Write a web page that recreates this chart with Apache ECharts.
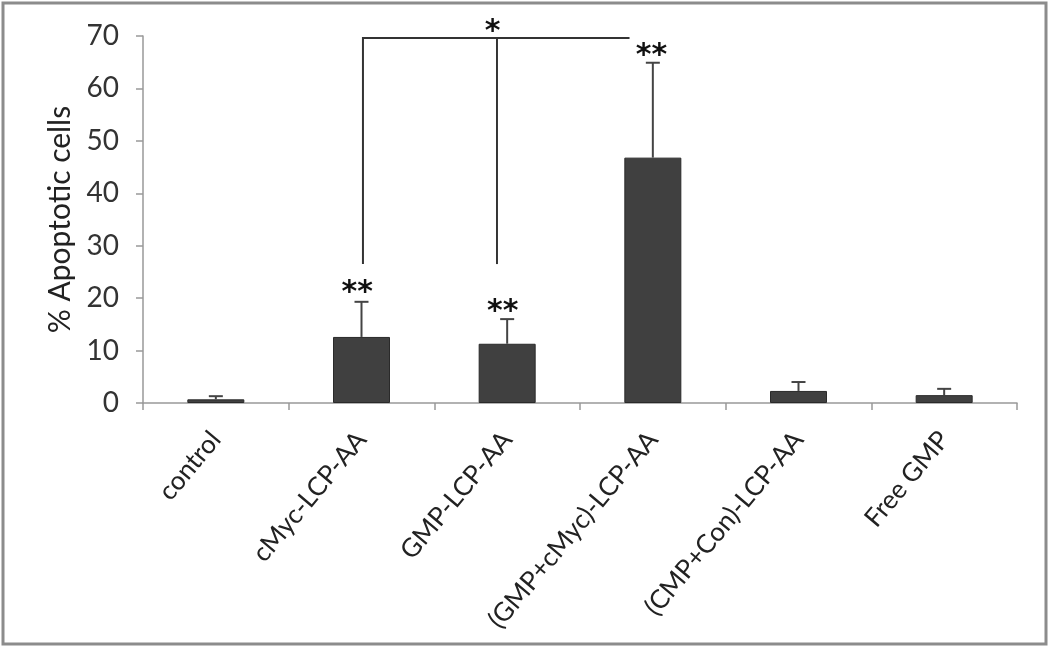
<!DOCTYPE html>
<html><head><meta charset="utf-8">
<script src="https://cdn.jsdelivr.net/npm/echarts@6/dist/echarts.min.js"></script>
<style>html,body{margin:0;padding:0;background:#fff}#c{width:1050px;height:648px}</style>
</head><body><div id="c"></div>
<script>
const categories = ['control','cMyc-LCP-AA','GMP-LCP-AA','(GMP+cMyc)-LCP-AA','(CMP+Con)-LCP-AA','Free GMP'];
const means = [0.7, 12.6, 11.3, 46.8, 2.3, 1.5];
const errTops = [1.3, 19.3, 16.0, 64.9, 4.0, 2.7];
const yTicks = [0, 10, 20, 30, 40, 50, 60, 70];
// bracket in category units (0..6), values
const bracketX = [1.51, 2.43, 3.34];
const bracketTop = 69.6;
const bracketDrop = 26.5;
// significance stars: [x (category units), y value, text]
const stars = [[1.47, 21.0, '**'], [2.47, 17.4, '**'], [3.49, 66.1, '**'], [2.40, 70.7, '*']];

const chart = echarts.init(document.getElementById('c'));
const FONT = 'Lato';
chart.setOption({
  animation: false,
  grid: {left: 143, right: 33, top: 36, bottom: 245},
  graphic: [{type: 'rect', shape: {x: 3, y: 3, width: 1043, height: 641}, style: {fill: 'none', stroke: '#8c8c8c', lineWidth: 3}, silent: true}],
  xAxis: [{
    type: 'category', data: categories,
    axisLine: {lineStyle: {color: '#999', width: 1.5}},
    axisTick: {show: true, length: 7, lineStyle: {color: '#999', width: 1.5}},
    axisLabel: {rotate: 50, fontFamily: FONT, fontSize: 26, color: '#222', margin: 32, interval: 0}
  }, {
    type: 'value', min: 0, max: 6, show: false
  }],
  yAxis: {
    type: 'value', min: 0, max: 70, interval: 10,
    name: '% Apoptotic cells', nameLocation: 'middle', nameGap: 68, nameRotate: 90,
    nameTextStyle: {fontFamily: FONT, fontSize: 30, color: '#222'},
    axisLine: {show: true, lineStyle: {color: '#999', width: 1.5}},
    axisTick: {show: true, length: 7, lineStyle: {color: '#999', width: 1.5}},
    splitLine: {show: false},
    axisLabel: {fontFamily: FONT, fontSize: 28, color: '#333', margin: 24,
      formatter: v => yTicks.includes(v) ? String(v) : ''}
  },
  series: [{
    type: 'bar', data: means, barWidth: 57,
    itemStyle: {color: '#404040', borderColor: '#2a2a2a', borderWidth: 1}
  }, {
    type: 'custom',
    data: means.map((m, i) => [i, m, errTops[i]]),
    renderItem: (params, api) => {
      const p0 = api.coord([api.value(0), api.value(1)]);
      const p1 = api.coord([api.value(0), api.value(2)]);
      const s = {stroke: '#444', lineWidth: 2};
      return {type: 'group', children: [
        {type: 'line', shape: {x1: p0[0], y1: p0[1], x2: p1[0], y2: p1[1]}, style: s},
        {type: 'line', shape: {x1: p1[0] - 7, y1: p1[1], x2: p1[0] + 7, y2: p1[1]}, style: s}
      ]};
    }, z: 3
  }, {
    type: 'custom', xAxisIndex: 1, clip: false,
    data: [[0]],
    renderItem: (params, api) => {
      const a = api.coord([bracketX[0], bracketDrop]);
      const b = api.coord([bracketX[0], bracketTop]);
      const c = api.coord([bracketX[2], bracketTop]);
      const d = api.coord([bracketX[1], bracketTop]);
      const e = api.coord([bracketX[1], bracketDrop]);
      const s = {stroke: '#333', lineWidth: 2, fill: 'none'};
      return {type: 'group', children: [
        {type: 'polyline', shape: {points: [a, b, c]}, style: s},
        {type: 'line', shape: {x1: d[0], y1: d[1], x2: e[0], y2: e[1]}, style: s}
      ]};
    }
  }, {
    type: 'custom', xAxisIndex: 1, clip: false,
    data: stars,
    renderItem: (params, api) => {
      const p = api.coord([api.value(0), api.value(1)]);
      return {type: 'text', x: p[0], y: p[1], style: {text: stars[params.dataIndex][2], fontFamily: 'DejaVu Sans', fontSize: 30, fontWeight: 'bold', fill: '#111', align: 'center', verticalAlign: 'middle'}};
    }
  }]
});
</script></body></html>
